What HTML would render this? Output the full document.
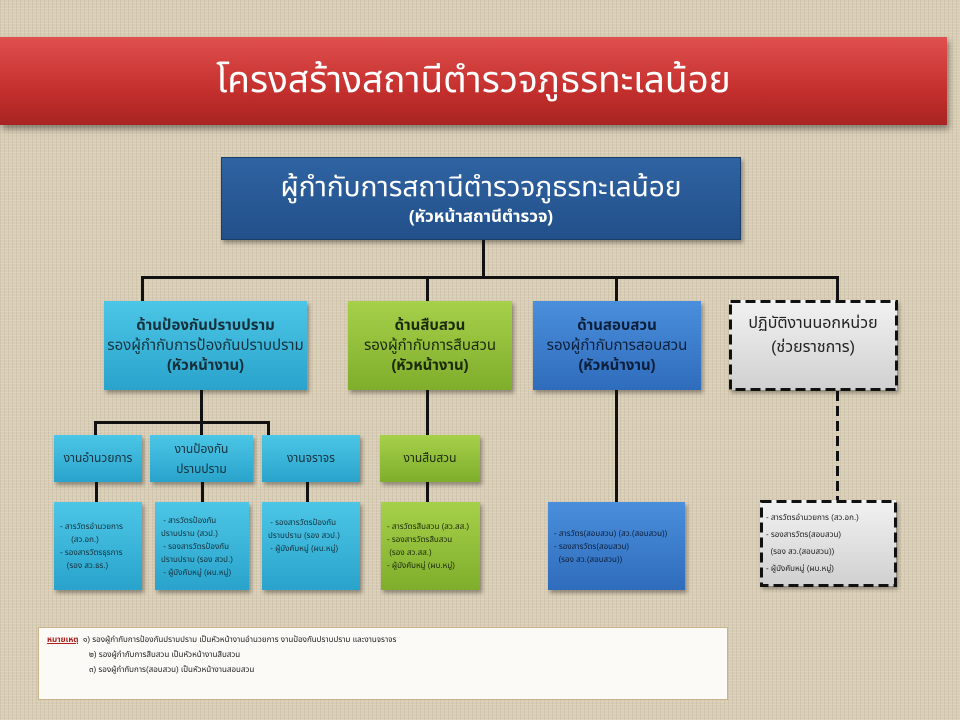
<!DOCTYPE html>
<html><head><meta charset="utf-8"><style>
body{margin:0;width:960px;height:720px;overflow:hidden;background:#d9cfb9;position:relative;font-family:"Liberation Sans","Noto Sans Thai","Loma","Garuda","DejaVu Sans",sans-serif;}
.bg{position:absolute;inset:0;background:
repeating-linear-gradient(0deg,rgba(255,255,255,.12) 0 1px,transparent 1px 3px),
repeating-linear-gradient(90deg,rgba(120,100,70,.10) 0 1px,transparent 1px 4px),#d8cdb5;}
.b{position:absolute;box-sizing:border-box;display:flex;flex-direction:column;align-items:center;justify-content:center;text-align:center;box-shadow:2px 3px 4px rgba(0,0,0,.35);}
.ln{position:absolute;background:#111;}
.cy{background:linear-gradient(#4cc6e6,#2aa3cc);color:#16313c;}
.gr{background:linear-gradient(#a6d04a,#7fae2c);color:#1c2a0c;}
.bl{background:linear-gradient(#4a8fdc,#2f6cbc);color:#0d1f3a;}
.gy{background:linear-gradient(#f2f2f2,#d0d0d0);color:#222;}
.m{font-size:14px;line-height:20px;}
.s{font-size:8px;line-height:13px;align-items:flex-start;padding-left:6px;text-align:left;}
svg{position:absolute;left:0;top:0;}
</style></head><body>
<div class="bg"></div>
<div class="b" style="left:0;top:37px;width:947px;height:88px;background:linear-gradient(#e0504e,#c4302e 60%,#a82422);color:#fff;font-size:37px;box-shadow:2px 4px 6px rgba(0,0,0,.4)">โครงสร้างสถานีตำรวจภูธรทะเลน้อย</div>
<div class="b" style="left:221px;top:157px;width:520px;height:83px;background:linear-gradient(#2f63a2,#22508a);color:#fff;border:1px solid #1a3d6a"><div style="font-size:28px;line-height:36px">ผู้กำกับการสถานีตำรวจภูธรทะเลน้อย</div><div style="font-size:17px;line-height:24px;font-weight:bold">(หัวหน้าสถานีตำรวจ)</div></div>
<div class="ln" style="left:482px;top:240px;width:3px;height:38px"></div>
<div class="ln" style="left:141px;top:276px;width:698px;height:3px"></div>
<div class="ln" style="left:141px;top:276px;width:3px;height:25px"></div>
<div class="ln" style="left:426px;top:276px;width:3px;height:25px"></div>
<div class="ln" style="left:615px;top:276px;width:3px;height:25px"></div>
<div class="ln" style="left:836px;top:276px;width:3px;height:25px"></div>
<div class="b cy m" style="left:104px;top:301px;width:203px;height:89px;font-size:15px"><b>ด้านป้องกันปราบปราม</b>รองผู้กำกับการป้องกันปราบปราม<b>(หัวหน้างาน)</b></div>
<div class="b gr m" style="left:348px;top:301px;width:164px;height:89px;font-size:15px"><b>ด้านสืบสวน</b>รองผู้กำกับการสืบสวน<b>(หัวหน้างาน)</b></div>
<div class="b bl m" style="left:533px;top:301px;width:168px;height:89px;font-size:15px"><b>ด้านสอบสวน</b>รองผู้กำกับการสอบสวน<b>(หัวหน้างาน)</b></div>
<div class="b gy" style="left:729px;top:300px;width:168px;height:90px;font-size:16px;line-height:24px;justify-content:flex-start;padding-top:12px">ปฏิบัติงานนอกหน่วย<br>(ช่วยราชการ)</div>
<div class="ln" style="left:200px;top:390px;width:3px;height:45px"></div>
<div class="ln" style="left:94px;top:421px;width:175px;height:3px"></div>
<div class="ln" style="left:94px;top:421px;width:3px;height:14px"></div>
<div class="ln" style="left:267px;top:421px;width:3px;height:14px"></div>
<div class="ln" style="left:426px;top:390px;width:3px;height:45px"></div>
<div class="ln" style="left:615px;top:390px;width:3px;height:112px"></div>
<div class="b cy" style="left:54px;top:435px;width:88px;height:47px;font-size:12px">งานอำนวยการ</div>
<div class="b cy" style="left:150px;top:435px;width:103px;height:47px;font-size:12px;line-height:20px">งานป้องกัน<br>ปราบปราม</div>
<div class="b cy" style="left:262px;top:435px;width:98px;height:47px;font-size:12px">งานจราจร</div>
<div class="b gr" style="left:380px;top:435px;width:100px;height:47px;font-size:12px">งานสืบสวน</div>
<div class="ln" style="left:95px;top:482px;width:3px;height:20px"></div>
<div class="ln" style="left:201px;top:482px;width:3px;height:20px"></div>
<div class="ln" style="left:306px;top:482px;width:3px;height:20px"></div>
<div class="ln" style="left:426px;top:482px;width:3px;height:20px"></div>
<div class="b cy s" style="left:54px;top:502px;width:88px;height:88px">- สารวัตรอำนวยการ<br>&nbsp;&nbsp;&nbsp;&nbsp;&nbsp;(สว.อก.)<br>- รองสารวัตรธุรการ<br>&nbsp;&nbsp;&nbsp;(รอง สว.ธร.)</div>
<div class="b cy s" style="left:155px;top:502px;width:94px;height:88px">&nbsp;- สารวัตรป้องกัน<br>ปราบปราม (สวป.)<br>&nbsp;- รองสารวัตรป้องกัน<br>ปราบปราม (รอง สวป.)<br>&nbsp;- ผู้บังคับหมู่ (ผบ.หมู่)</div>
<div class="b cy s" style="left:262px;top:502px;width:98px;height:88px;justify-content:flex-start;padding-top:14px">&nbsp;- รองสารวัตรป้องกัน<br>ปราบปราม (รอง สวป.)<br>&nbsp;- ผู้บังคับหมู่ (ผบ.หมู่)</div>
<div class="b gr s" style="left:381px;top:502px;width:99px;height:88px">- สารวัตรสืบสวน (สว.สส.)<br>- รองสารวัตรสืบสวน<br>&nbsp;(รอง สว.สส.)<br>- ผู้บังคับหมู่ (ผบ.หมู่)</div>
<div class="b bl s" style="left:548px;top:502px;width:137px;height:88px">- สารวัตร(สอบสวน) (สว.(สอบสวน))<br>- รองสารวัตร(สอบสวน)<br>&nbsp;&nbsp;(รอง สว.(สอบสวน))</div>
<div class="b gy s" style="left:760px;top:500px;width:136px;height:86px;line-height:17px">- สารวัตรอำนวยการ (สว.อก.)<br>- รองสารวัตร(สอบสวน)<br>&nbsp;&nbsp;(รอง สว.(สอบสวน))<br>- ผู้บังคับหมู่ (ผบ.หมู่)</div>
<svg width="960" height="720" fill="none" stroke="#111" stroke-width="3" stroke-dasharray="10,5">
<rect x="730.5" y="301.5" width="166" height="88"/>
<rect x="761.5" y="501.5" width="134" height="84"/>
<line x1="837.5" y1="391" x2="837.5" y2="500"/>
</svg>
<div style="position:absolute;left:38px;top:627px;width:690px;height:73px;box-sizing:border-box;background:#fbfaf6;border:1px solid #c9b48a;font-size:8px;line-height:15px;padding:4px 0 0 8px;color:#222">
<div><u style="color:#b02020;font-weight:bold">หมายเหตุ</u>&nbsp;&nbsp;๑) รองผู้กำกับการป้องกันปราบปราม เป็นหัวหน้างานอำนวยการ งานป้องกันปราบปราม และงานจราจร</div>
<div style="padding-left:42px">๒) รองผู้กำกับการสืบสวน เป็นหัวหน้างานสืบสวน</div>
<div style="padding-left:42px">๓) รองผู้กำกับการ(สอบสวน) เป็นหัวหน้างานสอบสวน</div>
</div>
</body></html>
